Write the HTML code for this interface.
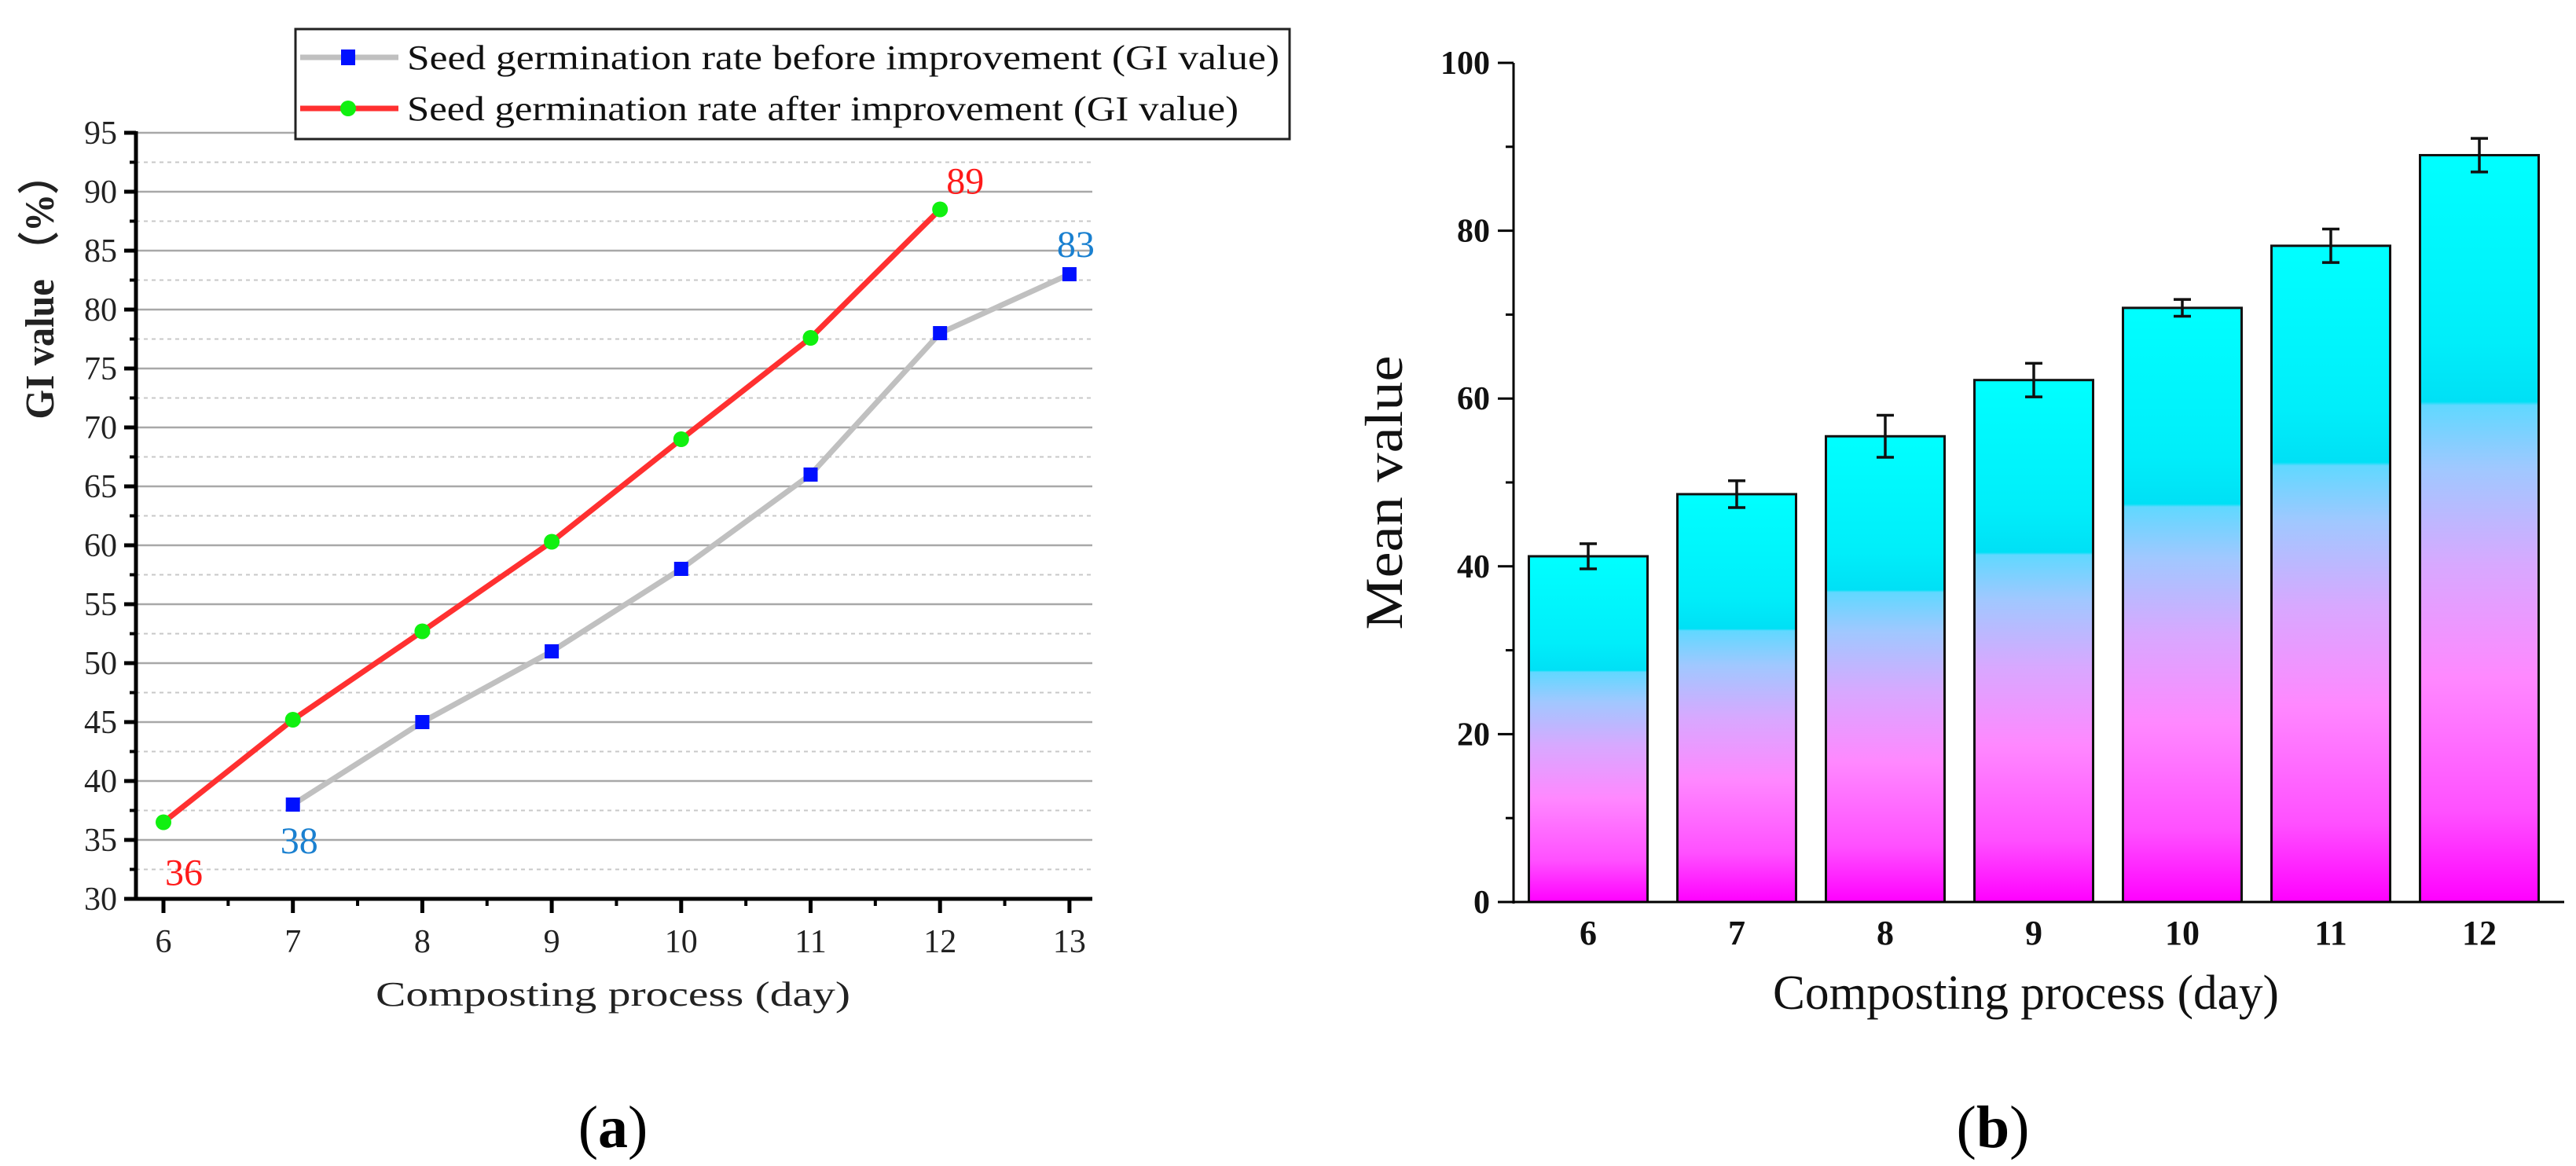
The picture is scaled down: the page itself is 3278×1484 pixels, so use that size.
<!DOCTYPE html>
<html><head><meta charset="utf-8"><style>
html,body{margin:0;padding:0;background:#fff;}
svg{display:block;}
text{font-family:"Liberation Serif",serif;}
</style></head><body>
<svg id="fig" width="3278" height="1484" viewBox="0 0 3278 1484" xmlns="http://www.w3.org/2000/svg">
<defs>
<linearGradient id="barGrad" x1="0" y1="1" x2="0" y2="0">
<stop offset="0" stop-color="#ff00ff"/>
<stop offset="0.12" stop-color="#ff50ff"/>
<stop offset="0.3" stop-color="#ff88ff"/>
<stop offset="0.45" stop-color="#d8a8ff"/>
<stop offset="0.58" stop-color="#a0c8ff"/>
<stop offset="0.665" stop-color="#60d8ff"/>
<stop offset="0.67" stop-color="#00e0f5"/>
<stop offset="0.75" stop-color="#00eefa"/>
<stop offset="1" stop-color="#00ffff"/>
</linearGradient>
</defs>
<g id="chartA"></g>
<g id="chartB"></g>
</svg>
<script>
const daysA = [6,7,8,9,10,11,12,13];
const beforeDays = [7,8,9,10,11,12,13];
const beforeVals = [38,45,51,58,66,78,83];
const afterDays = [6,7,8,9,10,11,12];
const afterVals = [36.5,45.2,52.7,60.3,69,77.6,88.5];
const yTicksA = [30,35,40,45,50,55,60,65,70,75,80,85,90,95];

const daysB = ['6','7','8','9','10','11','12'];
const meanVals = [41.2,48.6,55.5,62.2,70.8,78.2,89];
const errVals = [1.5,1.6,2.5,2.0,1.0,2.0,2.0];
const yTicksB = [0,20,40,60,80,100];

const NS='http://www.w3.org/2000/svg';
function mk(parent,tag,attrs,txt){const e=document.createElementNS(NS,tag);for(const k in attrs)e.setAttribute(k,attrs[k]);if(txt!==undefined)e.textContent=txt;parent.appendChild(e);return e;}

// ---- Chart A ----
const A=document.getElementById('chartA');
const ax0=173, axR=1390, ayB=1144;
const xA=d=>208+(d-6)*164.7;
const yA=v=>ayB-(v-30)*15;
for(let v=32.5;v<=92.5;v+=5){const l=mk(A,'line',{x1:ax0,x2:axR,y1:yA(v),y2:yA(v),stroke:'#c8c8c8','stroke-width':2,'stroke-dasharray':'5,5'});

}
yTicksA.forEach(v=>{if(v>30){const l=mk(A,'line',{x1:ax0,x2:axR,y1:yA(v),y2:yA(v),stroke:'#a8a8a8','stroke-width':2.5});

}
const tk=mk(A,'line',{x1:ax0-15,x2:ax0,y1:yA(v),y2:yA(v),stroke:'#000','stroke-width':5});


const t=mk(A,'text',{x:ax0-24,y:yA(v)+14,'text-anchor':'end','font-size':42,fill:'#222'},v);

});
for(let v=32.5;v<=92.5;v+=5){mk(A,'line',{x1:ax0-8,x2:ax0,y1:yA(v),y2:yA(v),stroke:'#000','stroke-width':4});}
mk(A,'line',{x1:ax0,x2:ax0,y1:yA(95)-2,y2:ayB+2,stroke:'#000','stroke-width':5,});
mk(A,'line',{x1:ax0-15,x2:axR,y1:ayB,y2:ayB,stroke:'#000','stroke-width':5,});
daysA.forEach(d=>{const tk=mk(A,'line',{x1:xA(d),x2:xA(d),y1:ayB,y2:ayB+18,stroke:'#000','stroke-width':5});


if(d<13){mk(A,'line',{x1:xA(d+0.5),x2:xA(d+0.5),y1:ayB,y2:ayB+9,stroke:'#000','stroke-width':4});}
const t=mk(A,'text',{x:xA(d),y:1212,'text-anchor':'middle','font-size':42,fill:'#222'},d);

});
const pb=beforeDays.map((d,i)=>xA(d)+','+yA(beforeVals[i])).join(' ');
mk(A,'polyline',{points:pb,fill:'none',stroke:'#c0c0c0','stroke-width':7,'stroke-linejoin':'round',});
const pa=afterDays.map((d,i)=>xA(d)+','+yA(afterVals[i])).join(' ');
mk(A,'polyline',{points:pa,fill:'none',stroke:'#ff3030','stroke-width':7,'stroke-linejoin':'round',});
beforeDays.forEach((d,i)=>{const r=mk(A,'rect',{x:xA(d)-9,y:yA(beforeVals[i])-9,width:18,height:18,fill:'#0010ff'});

});
afterDays.forEach((d,i)=>{const c=mk(A,'circle',{cx:xA(d),cy:yA(afterVals[i]),r:10,fill:'#10f010'});

});
mk(A,'text',{x:xA(6)+2,y:yA(36.5)+80,'font-size':48,fill:'#ff1a1a',},'36');
mk(A,'text',{x:xA(7)-16,y:yA(38)+62,'font-size':48,fill:'#1a80d0',},'38');
mk(A,'text',{x:xA(12)+8,y:yA(88.5)-20,'font-size':48,fill:'#ff1a1a',},'89');
mk(A,'text',{x:xA(13)-16,y:yA(83)-22,'font-size':48,fill:'#1a80d0',},'83');
mk(A,'rect',{x:376,y:37,width:1265,height:140,fill:'#fff',stroke:'#222','stroke-width':3,});
mk(A,'line',{x1:382,x2:507,y1:73,y2:73,stroke:'#c0c0c0','stroke-width':7});
mk(A,'rect',{x:434,y:63,width:18,height:20,fill:'#0010ff',});
mk(A,'text',{x:518,y:88,'font-size':44,fill:'#111',textLength:1110,lengthAdjust:'spacingAndGlyphs',},'Seed germination rate before improvement (GI value)');
mk(A,'line',{x1:382,x2:507,y1:138,y2:138,stroke:'#ff3030','stroke-width':7});
mk(A,'circle',{cx:443,cy:138,r:10,fill:'#10f010',});
mk(A,'text',{x:518,y:153,'font-size':44,fill:'#111',textLength:1058,lengthAdjust:'spacingAndGlyphs',},'Seed germination rate after improvement (GI value)');
mk(A,'text',{x:780,y:1280,'text-anchor':'middle','font-size':44,fill:'#222','font-family':'Liberation Mono, monospace',textLength:604,lengthAdjust:'spacingAndGlyphs',},'Composting process (day)');
mk(A,'text',{x:0,y:0,transform:'translate(68,366) rotate(-90)','text-anchor':'middle','font-size':52,'font-weight':'bold',fill:'#222','font-family':'Liberation Serif, Noto Serif CJK SC, serif',textLength:335,lengthAdjust:'spacingAndGlyphs',},'GI value （%）');
const pa1=mk(A,'text',{x:780,y:1460,'text-anchor':'middle','font-size':76,fill:'#000',});
pa1.innerHTML='(<tspan font-weight="bold">a</tspan>)';

// ---- Chart B ----
const B=document.getElementById('chartB');
const bx0=1926, bxR=3263, byB=1148;
const yB=v=>byB-v*10.68;
const pitch=189, bw=151;
const xB=i=>2021+i*pitch;
yTicksB.forEach(v=>{const tk=mk(B,'line',{x1:bx0-20,x2:bx0,y1:yB(v),y2:yB(v),stroke:'#000','stroke-width':3});


if(v<100){mk(B,'line',{x1:bx0-10,x2:bx0,y1:yB(v+10),y2:yB(v+10),stroke:'#000','stroke-width':3});}
const t=mk(B,'text',{x:bx0-30,y:yB(v)+14,'text-anchor':'end','font-size':42,'font-weight':'bold',fill:'#111'},v);

});
meanVals.forEach((v,i)=>{const r=mk(B,'rect',{x:xB(i)-bw/2,y:yB(v),width:bw,height:byB-yB(v),fill:'url(#barGrad)',stroke:'#111','stroke-width':3});


const e=errVals[i];
const g=mk(B,'path',{d:`M${xB(i)},${yB(v+e)}V${yB(v-e)}M${xB(i)-11},${yB(v+e)}H${xB(i)+11}M${xB(i)-11},${yB(v-e)}H${xB(i)+11}`,stroke:'#111','stroke-width':3.5,fill:'none'});


const t=mk(B,'text',{x:xB(i),y:1202,'text-anchor':'middle','font-size':44,'font-weight':'bold',fill:'#111'},daysB[i]);

});
mk(B,'line',{x1:bx0,x2:bx0,y1:yB(100),y2:byB+2,stroke:'#000','stroke-width':3,});
mk(B,'line',{x1:bx0-20,x2:bxR,y1:byB,y2:byB,stroke:'#000','stroke-width':3,});
mk(B,'text',{x:2578,y:1284,'text-anchor':'middle','font-size':62,fill:'#111',textLength:644,lengthAdjust:'spacingAndGlyphs',},'Composting process (day)');
mk(B,'text',{x:0,y:0,transform:'translate(1784,627) rotate(-90)','text-anchor':'middle','font-size':68,fill:'#111',textLength:349,lengthAdjust:'spacingAndGlyphs',},'Mean value');
const pb2=mk(B,'text',{x:2536,y:1460,'text-anchor':'middle','font-size':76,fill:'#000',});
pb2.innerHTML='(<tspan font-weight="bold">b</tspan>)';
</script>
</body></html>
